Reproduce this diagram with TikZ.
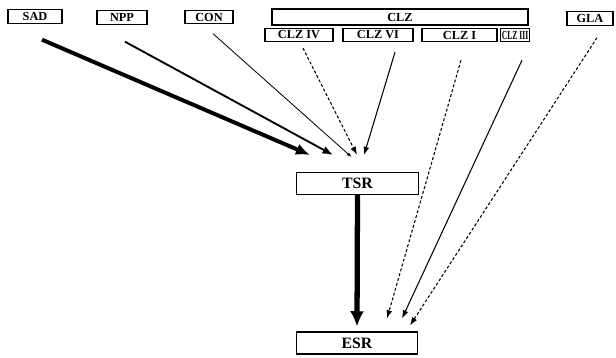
\documentclass[tikz,border=0pt]{standalone}
\usepackage{graphicx}
\usepackage{fontspec}
\setmainfont{Liberation Serif}
\usetikzlibrary{arrows.meta, positioning, calc}

\begin{document}
\begin{tikzpicture}[
    x=0.03cm, y=-0.03cm,
    box/.style={rectangle, draw, line width=0.9pt, inner sep=1pt, minimum height=0.4cm, font=\bfseries\fontsize{10.5}{10.5}\selectfont},
    resbox/.style={box, minimum width=3.64cm, minimum height=0.66cm, font=\bfseries\fontsize{13.5}{13.5}\selectfont},
    arrow/.style={-{Latex[length=7pt,width=5pt]}, line width=0.9pt},
    dasharrow/.style={arrow, dash pattern=on 2.5pt off 1.8pt}
]
\useasboundingbox (0,0) rectangle (616,357);

% Factors
\node[box, minimum width=1.62cm] (sad) at (35,16.5) {SAD};
\node[box, minimum width=1.5cm] (npp) at (122,17.5) {NPP};
\node[box, minimum width=1.44cm] (con) at (209,17) {CON};
\node[box, minimum width=7.68cm, minimum height=0.48cm] (clz) at (400,17) {CLZ};
\node[box, minimum width=1.38cm] (gla) at (590,18.5) {GLA};

% CLZ subgroups
\node[box, minimum width=2.04cm] (clz4) at (299,35) {CLZ IV};
\node[box, minimum width=2.1cm] (clz6) at (378,35) {CLZ VI};
\node[box, minimum width=2.25cm] (clz1) at (459.5,35) {CLZ I};
\node[box, minimum width=0.78cm] (clz3) at (515,35) {\scalebox{0.62}[1]{CLZ III}};

% Results
\node[resbox] (tsr) at (357.5,183.5) {TSR};
\node[resbox] (esr) at (357,343) {ESR};

% Arrows to TSR
\draw[arrow, line width=3.4pt, -{Latex[length=12pt,width=10pt]}] ($(sad.south)+(7,16)$) -- ($(tsr.north)+(-47.5,-17)$);
\draw[arrow, line width=1.6pt, -{Latex[length=9pt,width=7pt]}] ($(npp.south)+(3,17)$) -- ($(tsr.north)+(-24.5,-17)$);
\draw[arrow, line width=0.7pt, -{Latex[length=4pt,width=3pt]}] ($(con.south)+(4,9.5)$) -- ($(tsr.north)+(-6,-15)$);
\draw[dasharrow] ($(clz4.south)+(4,6)$) -- ($(tsr.north)+(-0.5,-17)$);
\draw[arrow] ($(clz6.south)+(17,10)$) -- ($(tsr.north)+(6.5,-17)$);

% Arrows to ESR
\draw[arrow, line width=4.5pt, -{Latex[length=13pt,width=12pt]}] (tsr.south) -- ($(esr.north)+(0,-5)$);
\draw[dasharrow] ($(clz1.south)+(1.5,18)$) -- ($(esr.north)+(30,-13)$);
\draw[arrow] ($(clz3.south)+(7,18)$) -- ($(esr.north)+(45,-13)$);
\draw[dasharrow] ($(gla.south)+(7,12)$) -- ($(esr.north)+(53,-6)$);

\end{tikzpicture}
\end{document}
